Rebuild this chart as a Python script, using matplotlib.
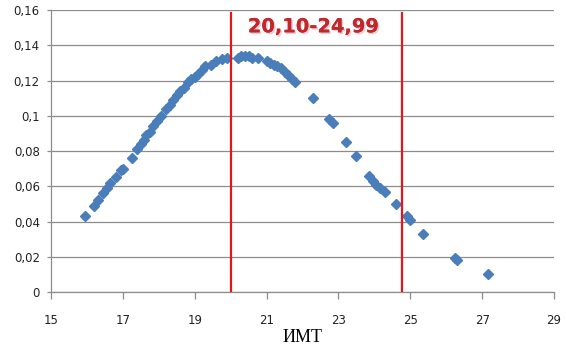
import matplotlib
matplotlib.use("Agg")
import matplotlib.pyplot as plt
import matplotlib.patheffects as pe

# BMI values and frequency density
bmi = [15.95, 16.2, 16.3, 16.45, 16.55, 16.65, 16.8, 16.95, 17.0, 17.25,
       17.4, 17.5, 17.58, 17.65, 17.75, 17.85, 17.95, 18.05, 18.2, 18.3,
       18.4, 18.5, 18.6, 18.7, 18.8, 18.9, 19.0, 19.1, 19.2, 19.3,
       19.45, 19.6, 19.75, 19.9, 20.2, 20.3, 20.4, 20.5, 20.6, 20.75,
       21.0, 21.1, 21.2, 21.3, 21.4, 21.5, 21.6, 21.7, 21.8, 22.3,
       22.75, 22.85, 23.2, 23.5, 23.85, 23.95, 24.05, 24.15, 24.3, 24.6,
       24.9, 25.0, 25.35, 26.25, 26.3, 27.15]
dens = [0.043, 0.049, 0.052, 0.056, 0.059, 0.062, 0.065, 0.069, 0.070, 0.076,
        0.081, 0.084, 0.086, 0.089, 0.091, 0.094, 0.097, 0.100, 0.104, 0.106,
        0.109, 0.112, 0.114, 0.116, 0.119, 0.121, 0.122, 0.124, 0.126, 0.128,
        0.129, 0.131, 0.132, 0.133, 0.133, 0.134, 0.134, 0.134, 0.133, 0.133,
        0.131, 0.130, 0.129, 0.128, 0.127, 0.125, 0.123, 0.121, 0.119, 0.110,
        0.098, 0.096, 0.085, 0.077, 0.066, 0.063, 0.061, 0.059, 0.057, 0.050,
        0.043, 0.041, 0.033, 0.019, 0.018, 0.010]

norm_bounds = [20.0, 24.78]
range_label = "20,10-24,99"
xticks = [15, 17, 19, 21, 23, 25, 27, 29]
yticks = [0, 0.02, 0.04, 0.06, 0.08, 0.1, 0.12, 0.14, 0.16]
ytick_labels = ["0", "0,02", "0,04", "0,06", "0,08", "0,1", "0,12", "0,14", "0,16"]

BLUE, RED, GRID = "#4a7ebb", "#e8141b", "#8c8c8c"

fig = plt.figure(figsize=(5.66, 3.48), dpi=100)
ax = fig.add_axes([0.090, 0.161, 0.889, 0.810])

ax.plot(bmi, dens, linestyle="none", marker="D", ms=5.2,
        color=BLUE, mec=BLUE, zorder=3)

for xb in norm_bounds:
    ax.plot([xb, xb], [0, 0.1585], color=RED, lw=1.6, zorder=4)

ax.text(22.3, 0.1505, range_label, ha="center", va="center", fontsize=14,
        fontweight="semibold", color="#c1272d",
        path_effects=[pe.withSimplePatchShadow(offset=(1.2, -1.2),
                                               shadow_rgbFace="#d9a0a0", alpha=0.5),
                      pe.Normal()])

ax.set_xlim(15, 29)
ax.set_ylim(0, 0.16)
ax.set_xticks(xticks)
ax.set_xticklabels([str(t) for t in xticks])
ax.set_yticks(yticks)
ax.set_yticklabels(ytick_labels)
ax.yaxis.grid(True, color=GRID, lw=0.9)
ax.set_axisbelow(True)

for s in ["top", "right"]:
    ax.spines[s].set_visible(False)
for s in ["left", "bottom"]:
    ax.spines[s].set_color(GRID)
    ax.spines[s].set_linewidth(0.9)

ax.tick_params(axis="x", direction="out", length=5, color=GRID, width=0.9,
               labelsize=8.5, pad=11, labelcolor="#222222")
ax.tick_params(axis="y", direction="out", length=3, color=GRID, width=0.9,
               labelsize=8.5, pad=5, labelcolor="#222222")

ax.set_xlabel("ИМТ", fontsize=13, family="Liberation Serif", labelpad=1)

fig.savefig("out.png", dpi=100)
